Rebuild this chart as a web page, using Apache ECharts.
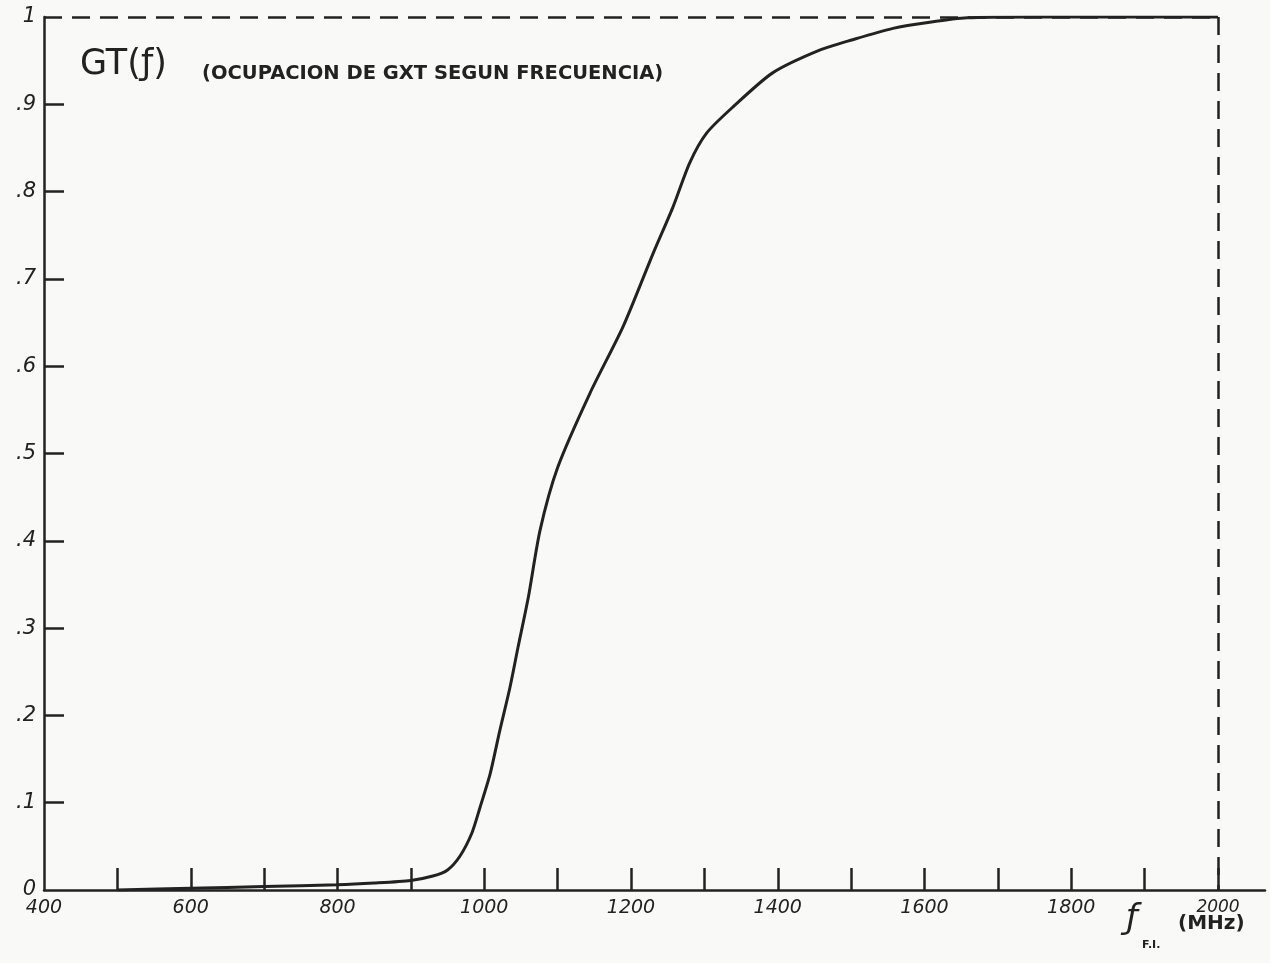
<!DOCTYPE html>
<html>
<head>
<meta charset="utf-8">
<script src="https://cdn.jsdelivr.net/npm/echarts@6/dist/echarts.min.js"></script>
<style>
  html, body { margin: 0; padding: 0; background: #f9f9f7; }
  #chart { width: 1270px; height: 963px; }
</style>
</head>
<body>
<div id="chart"></div>
<script>
// Frequency (MHz) and occupation GT(f)
const freq = [500, 600, 700, 800, 850, 900, 930, 950, 967, 983, 994, 1008, 1021, 1035, 1046, 1060, 1076, 1100, 1144, 1189, 1230, 1257, 1280, 1303, 1339, 1393, 1457, 1502, 1557, 1607, 1658, 1750, 1850, 2000];
const occupation = [0, 0.002, 0.004, 0.006, 0.008, 0.011, 0.016, 0.023, 0.039, 0.065, 0.094, 0.133, 0.182, 0.232, 0.278, 0.335, 0.412, 0.484, 0.569, 0.645, 0.729, 0.782, 0.833, 0.867, 0.897, 0.936, 0.962, 0.974, 0.987, 0.994, 0.999, 1, 1, 1];
const xTickValues = [500, 600, 700, 800, 900, 1000, 1100, 1200, 1300, 1400, 1500, 1600, 1700, 1800, 1900, 2000];
const xLabelValues = [400, 600, 800, 1000, 1200, 1400, 1600, 1800, 2000];
const yTickValues = [0.1, 0.2, 0.3, 0.4, 0.5, 0.6, 0.7, 0.8, 0.9];
const yLabelValues = [0, 0.1, 0.2, 0.3, 0.4, 0.5, 0.6, 0.7, 0.8, 0.9, 1];

const ink = '#222';
const font = 'DejaVu Sans';

const chart = echarts.init(document.getElementById('chart'), null, { renderer: 'canvas' });
chart.setOption({
  backgroundColor: '#f9f9f7',
  animation: false,
  grid: { left: 44, right: 5, top: 17, bottom: 73, outerBoundsMode: 'none' },
  xAxis: {
    type: 'value', min: 400, max: 2064,
    splitLine: { show: false },
    axisLine: { show: true, lineStyle: { color: ink, width: 2.5 } },
    axisTick: { show: true, inside: true, length: 22, customValues: xTickValues, lineStyle: { color: ink, width: 2.5 } },
    axisLabel: {
      customValues: xLabelValues, color: ink, fontFamily: font, fontStyle: 'italic', fontSize: 19, margin: 9,
      formatter: v => v === 2000 ? '{hi|2000}' : String(v),
      rich: { hi: { fontFamily: font, fontStyle: 'italic', fontSize: 17, color: ink, padding: [0, 0, 14, 0] } }
    }
  },
  yAxis: {
    type: 'value', min: 0, max: 1, interval: 0.1,
    splitLine: { show: false },
    axisLine: { show: true, lineStyle: { color: ink, width: 2.5 } },
    axisTick: { show: true, inside: true, length: 20, customValues: yTickValues, lineStyle: { color: ink, width: 2.5 } },
    axisLabel: {
      customValues: yLabelValues, color: ink, fontFamily: font, fontStyle: 'italic', fontSize: 21, margin: 8,
      formatter: v => v === 0 ? '0' : (v === 1 ? '1' : v.toFixed(1).replace('0.', '.'))
    }
  },
  series: [{
    type: 'line',
    data: freq.map((f, i) => [f, occupation[i]]),
    showSymbol: false,
    smooth: 0.25,
    lineStyle: { color: ink, width: 3 },
    markLine: {
      silent: true,
      symbol: ['none', 'none'],
      label: { show: false },
      lineStyle: { color: ink, width: 2.5, type: [18, 10] },
      data: [
        [{ coord: [400, 1] }, { coord: [2000, 1] }],
        [{ coord: [2000, 1] }, { coord: [2000, 0] }]
      ]
    }
  }],
  graphic: [
    { type: 'text', left: 80, top: 47, style: { text: 'GT(ƒ)', font: 'normal 35px "DejaVu Sans"', fill: ink } },
    { type: 'text', left: 202, top: 64, style: { text: '(OCUPACION DE GXT SEGUN FRECUENCIA)', font: 'bold 19.5px "DejaVu Sans"', fill: ink } },
    { type: 'text', left: 1126, top: 902, style: { text: 'ƒ', font: 'italic 34px "DejaVu Sans"', fill: ink } },
    { type: 'text', left: 1142, top: 940, style: { text: 'F.I.', font: 'bold 11px "DejaVu Sans"', fill: ink } },
    { type: 'text', left: 1178, top: 914, style: { text: '(MHz)', font: 'bold 20px "DejaVu Sans"', fill: ink } }
  ]
});
</script>
</body>
</html>
